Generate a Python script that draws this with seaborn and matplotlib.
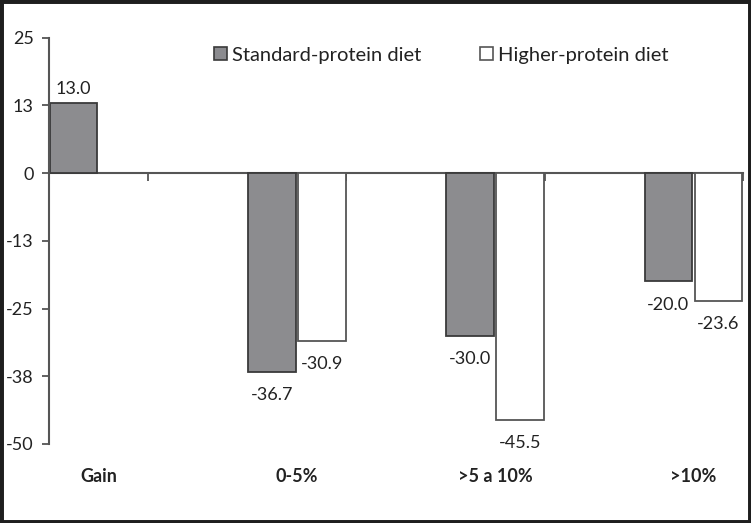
import numpy as np
import pandas as pd
import matplotlib
matplotlib.use('Agg')
import matplotlib.pyplot as plt
import seaborn as sns
from matplotlib.patches import Rectangle, Patch

categories = ['Gain', '0-5%', '>5 a 10%', '>10%']
standard_protein = [13.0, -36.7, -30.0, -20.0]
higher_protein = [np.nan, -30.9, -45.5, -23.6]
series_names = ['Standard-protein diet', 'Higher-protein diet']
y_ticks = [25, 12.5, 0, -12.5, -25, -37.5, -50]
y_tick_labels = ['25', '13', '0', '-13', '-25', '-38', '-50']

df = pd.DataFrame({
    'category': categories * 2,
    'diet': [series_names[0]] * 4 + [series_names[1]] * 4,
    'value': standard_protein + higher_protein,
})

sns.set_style('white')
plt.rcParams['font.family'] = ['Lato', 'DejaVu Sans']

W, H = 751, 523
fig = plt.figure(figsize=(W / 100, H / 100), dpi=100)
ax = fig.add_axes([49 / W, 1 - 444 / H, (743 - 49) / W, (444 - 37.7) / H])

sns.barplot(data=df, x='category', y='value', hue='diet', order=categories,
            hue_order=series_names, palette=['#8b8b8f', 'white'],
            width=0.505, gap=0.05, errorbar=None, legend=False, ax=ax)

edge_cols = ['#3a3a3a', '#555555']
for cont, ec in zip(ax.containers, edge_cols):
    for bar in cont:
        bar.set_edgecolor(ec)
        bar.set_linewidth(1.3)
        h = bar.get_height()
        if np.isnan(h):
            continue
        xc = bar.get_x() + bar.get_width() / 2
        if h >= 0:
            ax.annotate(f'{h:.1f}', (xc, h), xytext=(0, 4), textcoords='offset points',
                        ha='center', va='bottom', fontsize=13, color='#222222')
        else:
            ax.annotate(f'{h:.1f}', (xc, h), xytext=(0, -11), textcoords='offset points',
                        ha='center', va='top', fontsize=13, color='#222222')

ax.set_xlim(-0.25, 3.25)
ax.set_ylim(-50, 25)
ax.set_yticks(y_ticks)
ax.set_yticklabels(y_tick_labels, fontsize=13, color='#222222')
ax.tick_params(axis='y', direction='out', length=5, width=1.3, color='#555555', pad=6, left=True)
ax.set_xticks(range(len(categories)))
ax.set_xticklabels(categories, fontsize=13, fontweight='bold', color='#222222')
ax.tick_params(axis='x', length=0, pad=17)
ax.set_xlabel('')
ax.set_ylabel('')

for s in ['top', 'right', 'bottom']:
    ax.spines[s].set_visible(False)
ax.spines['left'].set_color('#555555')
ax.spines['left'].set_linewidth(1.5)

# category axis drawn at y = 0 (secondary axis ticks sit on its top side)
zero_ax = ax.secondary_xaxis(50 / 75)
zero_ax.set_xticks([0.25, 1.25, 2.25, 3.25])
zero_ax.set_xticklabels([])
zero_ax.tick_params(direction='in', length=6, width=1.3, color='#555555')
zero_ax.spines['top'].set_visible(True)
zero_ax.spines['top'].set_color('#555555')
zero_ax.spines['top'].set_linewidth(1.5)
zero_ax.spines['bottom'].set_visible(False)

handles = [Patch(facecolor='#8b8b8f', edgecolor='#3a3a3a', linewidth=1.2),
           Patch(facecolor='white', edgecolor='#555555', linewidth=1.2)]
fig.legend(handles, series_names, loc='center left', bbox_to_anchor=(196 / W, 1 - 55 / H),
           ncol=2, frameon=False, fontsize=14.5, handlelength=0.65, handleheight=0.65,
           handletextpad=0.25, columnspacing=2.9, labelcolor='#222222')

fig.patches.append(Rectangle((0, 0), 1, 1, transform=fig.transFigure, fill=False,
                             linewidth=5, edgecolor='#1e1e1e'))

fig.savefig('out.png', dpi=100)
